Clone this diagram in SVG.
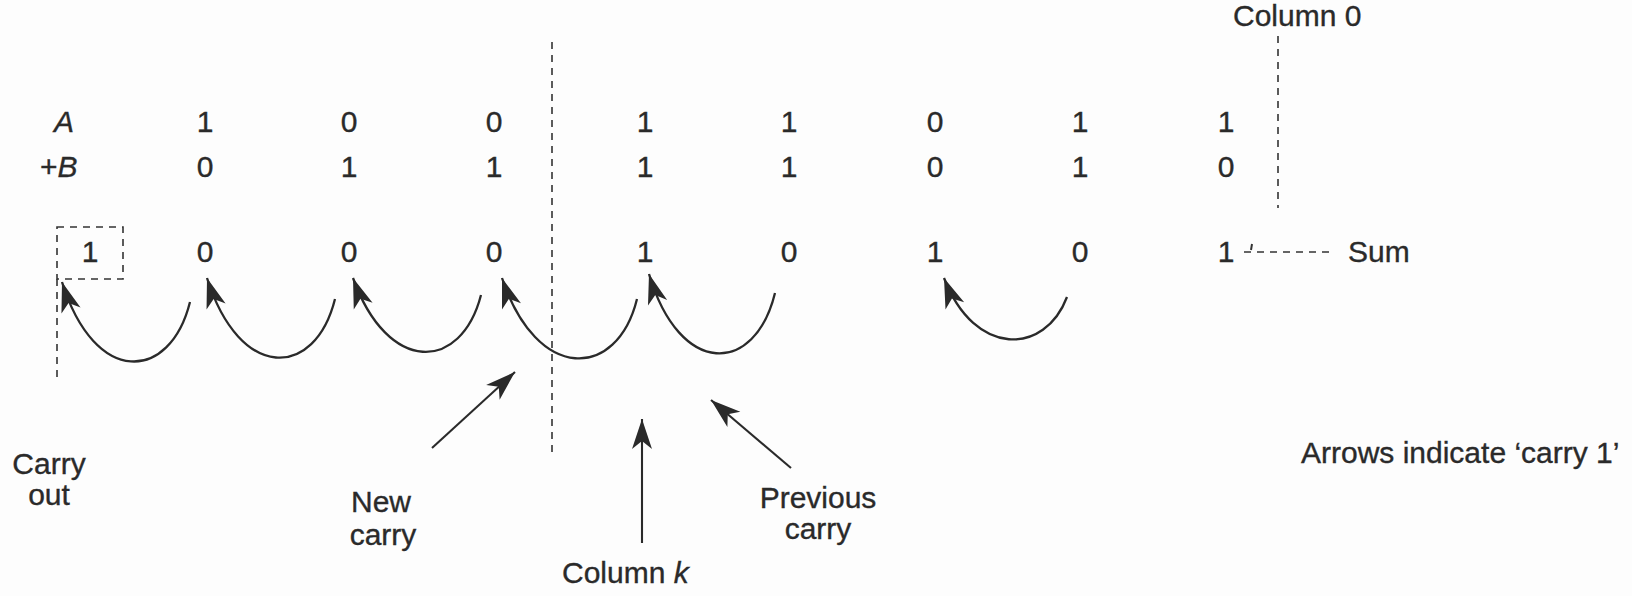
<svg xmlns="http://www.w3.org/2000/svg" width="1632" height="596" viewBox="0 0 1632 596">
<style>
text{font-family:"Liberation Sans",Arial,sans-serif;font-size:30px;fill:#2a2a2a;stroke:#2a2a2a;stroke-width:0.35}
.m{text-anchor:middle}
.i{font-style:italic}
.dash{stroke:#333;stroke-width:1.6;stroke-dasharray:7 6;fill:none}
.arc{stroke:#2a2a2a;stroke-width:2.3;fill:none;marker-end:url(#ah)}
.ln{stroke:#2a2a2a;stroke-width:2.1;fill:none;marker-end:url(#ah)}
</style>
<defs>
<marker id="ah" viewBox="-31 -11 33 22" refX="0" refY="0" markerWidth="33" markerHeight="22" markerUnits="userSpaceOnUse" orient="auto">
<path d="M0,0 L-30,-10 L-22,0 L-30,10 Z" fill="#2a2a2a"/>
</marker>
</defs>
<rect width="1632" height="596" fill="#fdfdfd"/>
<g id="guides">
<line class="dash" x1="552" y1="42" x2="552" y2="453"/>
<line class="dash" x1="1278" y1="36" x2="1278" y2="208"/>
<line class="dash" x1="57" y1="279" x2="57" y2="380"/>
<rect class="dash" x="57" y="227" width="66" height="52"/>
<line class="dash" x1="1244" y1="252" x2="1330" y2="252"/>
<line x1="1252" y1="244" x2="1251" y2="250" stroke="#333" stroke-width="2"/>
</g>
<g id="rowA">
<text class="i" x="54" y="132">A</text>
<text class="m" x="205" y="132">1</text><text class="m" x="349" y="132">0</text><text class="m" x="494" y="132">0</text><text class="m" x="645" y="132">1</text><text class="m" x="789" y="132">1</text><text class="m" x="935" y="132">0</text><text class="m" x="1080" y="132">1</text><text class="m" x="1226" y="132">1</text>
</g>
<g id="rowB">
<text x="40" y="177">+<tspan class="i">B</tspan></text>
<text class="m" x="205" y="177">0</text><text class="m" x="349" y="177">1</text><text class="m" x="494" y="177">1</text><text class="m" x="645" y="177">1</text><text class="m" x="789" y="177">1</text><text class="m" x="935" y="177">0</text><text class="m" x="1080" y="177">1</text><text class="m" x="1226" y="177">0</text>
</g>
<g id="sumrow">
<text class="m" x="90" y="262">1</text>
<text class="m" x="205" y="262">0</text><text class="m" x="349" y="262">0</text><text class="m" x="494" y="262">0</text><text class="m" x="645" y="262">1</text><text class="m" x="789" y="262">0</text><text class="m" x="935" y="262">1</text><text class="m" x="1080" y="262">0</text><text class="m" x="1226" y="262">1</text>
<text x="1348" y="262">Sum</text>
</g>
<g id="connectors">
<path class="arc" d="M190,302 C170,382 95,387 62,282"/>
<path class="arc" d="M335,299 C315,379 240,382 207,278"/>
<path class="arc" d="M481,295 C461,372 388,375 353,278"/>
<path class="arc" d="M637,299 C617,380 537,383 502,278"/>
<path class="arc" d="M775,293 C755,375 680,378 649,274"/>
<path class="arc" d="M1067,297 C1045,355 975,358 944,278"/>
<line class="ln" x1="432" y1="448" x2="515" y2="372"/>
<line class="ln" x1="642" y1="543" x2="642" y2="419"/>
<line class="ln" x1="791" y1="468" x2="711" y2="400"/>
</g>
<g id="labels">
<text x="1233" y="26">Column 0</text>
<text class="m" x="49" y="474">Carry</text><text class="m" x="49" y="505">out</text>
<text class="m" x="381" y="512">New</text><text class="m" x="383" y="545">carry</text>
<text x="562" y="583">Column <tspan class="i">k</tspan></text>
<text class="m" x="818" y="508">Previous</text><text class="m" x="818" y="539">carry</text>
<text x="1301" y="463">Arrows indicate ‘carry 1’</text>
</g>
</svg>
